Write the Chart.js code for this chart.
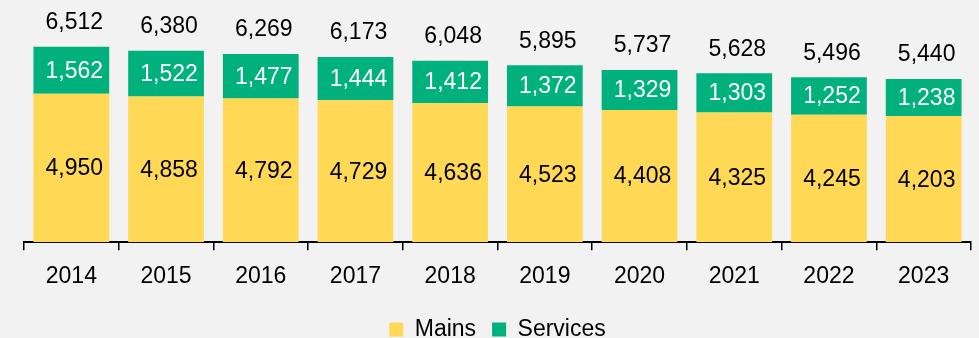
<!DOCTYPE html>
<html>
<head>
<meta charset="utf-8">
<script src="https://cdn.jsdelivr.net/npm/chart.js@4"></script>
<style>
  html, body { margin: 0; padding: 0; background: #f2f2f2; }
  #wrap { width: 979px; height: 338px; position: relative; }
</style>
</head>
<body>
<div id="wrap"><canvas id="chart"></canvas></div>
<script>
const years = ["2014", "2015", "2016", "2017", "2018", "2019", "2020", "2021", "2022", "2023"];
const mains = [4950, 4858, 4792, 4729, 4636, 4523, 4408, 4325, 4245, 4203];
const services = [1562, 1522, 1477, 1444, 1412, 1372, 1329, 1303, 1252, 1238];
const totals = [6512, 6380, 6269, 6173, 6048, 5895, 5737, 5628, 5496, 5440];

const FONT = '"Liberation Sans", Arial, sans-serif';
const fmt = (v) => v.toLocaleString("en-US");

// draws the segment values and the stack totals on top of the bars
const barLabels = {
  id: "barLabels",
  afterDatasetsDraw(chart) {
    const ctx = chart.ctx;
    ctx.save();
    ctx.font = "23px " + FONT;
    ctx.textAlign = "center";
    ctx.textBaseline = "middle";
    const colors = ["#000000", "#ffffff"];
    chart.data.datasets.forEach((ds, di) => {
      const meta = chart.getDatasetMeta(di);
      meta.data.forEach((bar, i) => {
        const { x, y, base } = bar.getProps(["x", "y", "base"], true);
        ctx.fillStyle = colors[di];
        ctx.fillText(fmt(ds.data[i]), x + 3, (y + base) / 2 + 1);
        if (di === chart.data.datasets.length - 1) {
          ctx.fillStyle = "#000000";
          ctx.fillText(fmt(totals[i]), x + 3, y - 24);
        }
      });
    });
    ctx.restore();
  },
};

Chart.defaults.font.family = FONT;
Chart.defaults.color = "#000000";

new Chart(document.getElementById("chart"), {
  type: "bar",
  data: {
    labels: years,
    datasets: [
      {
        label: "Mains",
        data: mains,
        backgroundColor: "#ffd955",
        barPercentage: 0.8,
        categoryPercentage: 1,
      },
      {
        label: "Services",
        data: services,
        backgroundColor: "#00b17e",
        barPercentage: 0.8,
        categoryPercentage: 1,
      },
    ],
  },
  options: {
    responsive: true,
    maintainAspectRatio: false,
    animation: false,
    layout: { padding: { top: 2, left: 24, right: 8, bottom: -13 } },
    plugins: {
      legend: {
        position: "bottom",
        labels: {
          boxWidth: 14,
          boxHeight: 14,
          padding: 16,
          font: { size: 23 },
          color: "#000000",
        },
      },
      tooltip: { enabled: false },
    },
    scales: {
      x: {
        stacked: true,
        offset: true,
        grid: {
          offset: true,
          drawOnChartArea: false,
          drawTicks: true,
          tickLength: 8,
          color: "#000000",
          lineWidth: 1.5,
        },
        border: { display: true, color: "#000000", width: 2 },
        ticks: { font: { size: 23, lineHeight: 1.55 }, color: "#000000", padding: 8 },
      },
      y: {
        stacked: true,
        display: false,
        min: 0,
        max: 8000,
      },
    },
  },
  plugins: [barLabels],
});
</script>
</body>
</html>
